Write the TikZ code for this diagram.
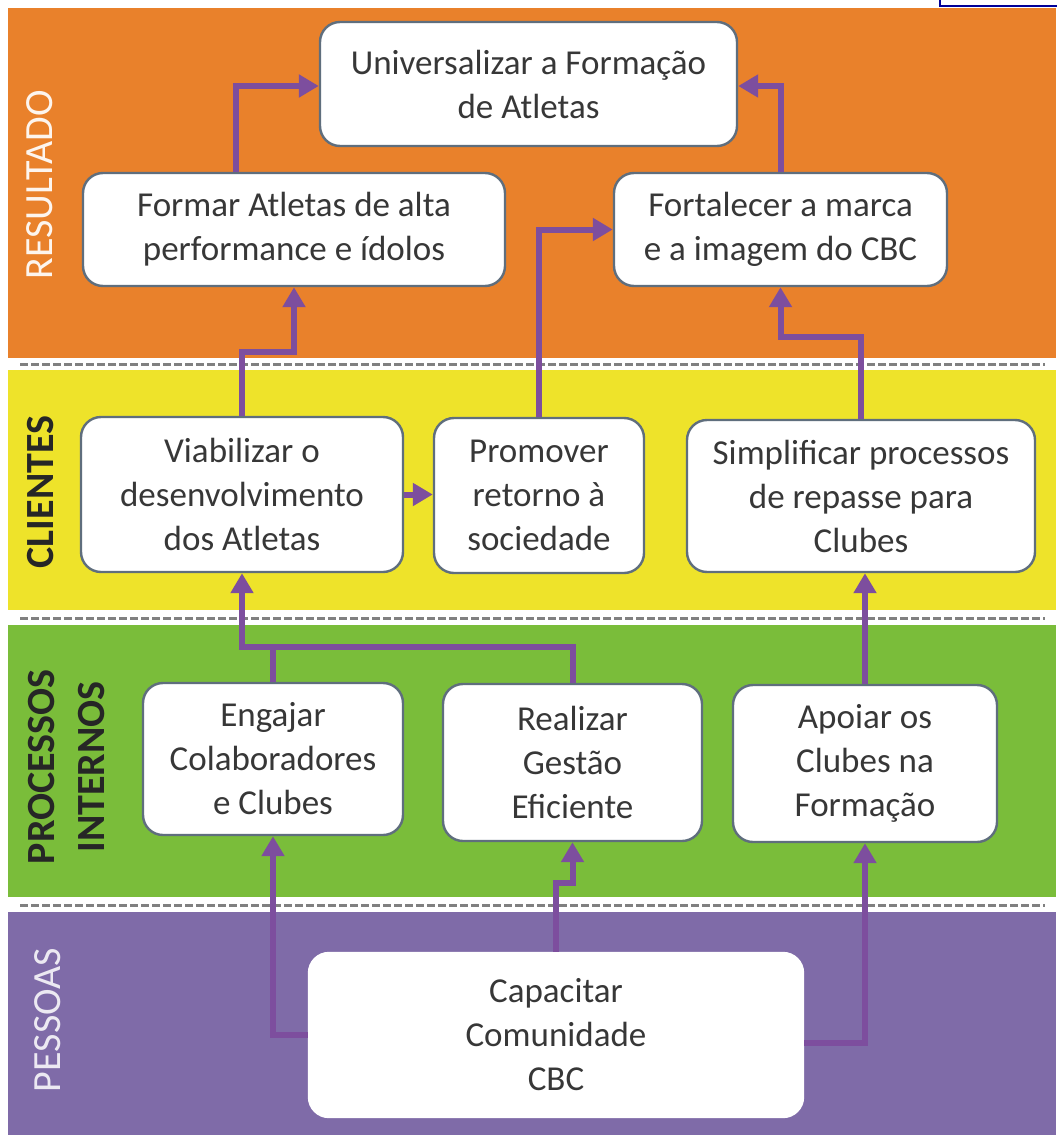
\documentclass[tikz,border=0pt]{standalone}
\usepackage{fontspec}
\setmainfont{Carlito}
\usepackage{tikz}
\usetikzlibrary{arrows.meta}

\definecolor{laranja}{RGB}{233,129,43}
\definecolor{amarelo}{RGB}{238,227,42}
\definecolor{verde}{RGB}{122,189,58}
\definecolor{roxo}{RGB}{127,107,168}
\definecolor{setacor}{RGB}{125,78,158}
\definecolor{borda}{RGB}{95,110,125}
\definecolor{texto}{RGB}{55,55,55}

\tikzset{
  caixa/.style={draw=borda, line width=1.2pt, fill=white, rounded corners=10pt,
    align=center, text=texto, inner sep=0pt, font=\fontsize{17.5}{22}\selectfont},
  seta/.style={draw=setacor, line width=3pt, -{Triangle[width=11pt,length=10pt]}},
  linha/.style={draw=setacor, line width=3pt},
  divisa/.style={draw=gray, line width=1.5pt, dash pattern=on 4pt off 1.5pt},
  rotulo/.style={rotate=90, align=center, font=\fontsize{20}{25}\selectfont}
}

\begin{document}
\begin{tikzpicture}[x=0.5pt,y=-0.5pt]

        \useasboundingbox (0,0) rectangle (1056,1135);
        \fill[white] (0,0) rectangle (1056,1135);

        \fill[laranja] (8,8) rectangle (1056,358);
        \fill[amarelo] (8,370) rectangle (1056,610);
        \fill[verde] (8,625) rectangle (1056,897);
        \fill[roxo] (8,912) rectangle (1056,1135);

        \draw[divisa] (20,364) -- (1045,364);
        \draw[divisa] (20,618) -- (1045,618);
        \draw[divisa] (20,905) -- (1045,905);

        \draw[blue!60!black, line width=1pt] (940,-2) -- (940,6) -- (1060,6);

        \node[rotulo, text=white!92!laranja] (resultado) at (40,185) {RESULTADO};
        \node[rotulo, text=black!85, font=\fontsize{20}{25}\selectfont\bfseries] (clientes) at (41,492) {CLIENTES};
        \node[rotulo, text=black!85, font=\fontsize{20}{25}\selectfont\bfseries] (processos) at (67,767) {PROCESSOS\\INTERNOS};
        \node[rotulo, text=white!85!roxo] (pessoas) at (48,1020) {PESSOAS};

        \node[caixa, minimum width=208.5pt, minimum height=62pt] (univ) at (528.5,84) {Universalizar a Formação\\de Atletas};
        \node[caixa, minimum width=211pt, minimum height=56.5pt] (formar) at (294,229.5) {Formar Atletas de alta\\performance e ídolos};
        \node[caixa, minimum width=166.5pt, minimum height=56.5pt] (fortalecer) at (780.5,229.5) {Fortalecer a marca\\e a imagem do CBC};

        \node[caixa, minimum width=161pt, minimum height=77.5pt] (viabilizar) at (242,494.5) {Viabilizar o\\desenvolvimento\\dos Atletas};
        \node[caixa, minimum width=105pt, minimum height=77.5pt] (promover) at (539,495.5) {Promover\\retorno à\\sociedade};
        \node[caixa, minimum width=174pt, minimum height=76pt] (simplificar) at (861,496) {Simplificar processos\\de repasse para\\Clubes};

        \node[caixa, minimum width=130pt, minimum height=76pt] (engajar) at (273,759) {Engajar\\Colaboradores\\e Clubes};
        \node[caixa, minimum width=129.5pt, minimum height=78.5pt] (realizar) at (572.5,762.5) {Realizar\\Gestão\\Eficiente};
        \node[caixa, minimum width=132pt, minimum height=78.5pt] (apoiar) at (865,763.5) {Apoiar os\\Clubes na\\Formação};

        \node[caixa, draw=white, minimum width=247pt, minimum height=82pt] (capacitar) at (556,1035) {Capacitar\\Comunidade\\CBC};

        \draw[seta] (formar.north -| 236,0) |- (univ.west |- 0,86);
        \draw[seta] (fortalecer.north) |- (univ.east |- 0,86);
        \draw[seta] (viabilizar.north) |- (formar.south |- 0,352) -- (formar.south);
        \draw[seta] (promover.north) |- (fortalecer.west);
        \draw[seta] (simplificar.north) |- (fortalecer.south |- 0,337) -- (fortalecer.south);
        \draw[seta] (viabilizar.east) -- (viabilizar.east -| promover.west);

        \draw[linha] (realizar.north) |- (viabilizar.south |- 0,647);
        \draw[seta] (engajar.north) |- (viabilizar.south |- 0,647) -- (viabilizar.south);
        \draw[seta] (apoiar.north) -- (apoiar.north |- simplificar.south);

        \draw[seta] (capacitar.west) -| (engajar.south);
        \draw[seta] (capacitar.north) |- (realizar.south |- 0,883) -- (realizar.south);
        \draw[seta] (capacitar.east |- 0,1043) -| (apoiar.south);

\end{tikzpicture}
\end{document}
